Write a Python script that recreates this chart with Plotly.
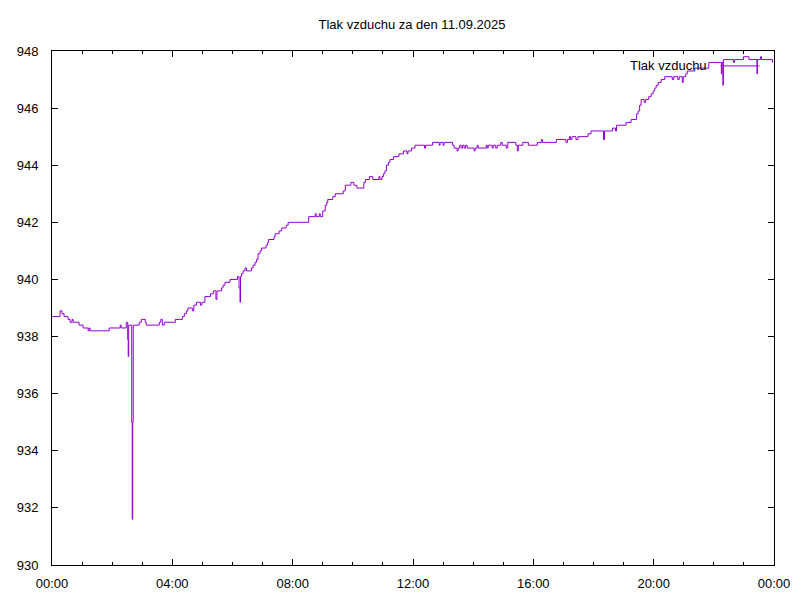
import plotly.graph_objects as go

# tlak vzduchu 11.09.2025 (cas, hPa)
times = [
    "00:00", "00:16", "00:20", "00:24", "00:32", "00:36", "00:40", "00:42", "00:54", "01:02",
    "01:12", "01:14", "01:16", "01:54", "02:16", "02:18", "02:28", "02:31", "02:32", "02:33",
    "02:39", "02:40", "02:41", "02:42", "02:54", "02:58", "03:06", "03:08", "03:34", "03:37",
    "03:40", "03:44", "04:06", "04:20", "04:24", "04:28", "04:31", "04:40", "04:43", "04:48",
    "04:56", "04:59", "05:05", "05:16", "05:22", "05:27", "05:29", "05:38", "05:41", "05:45",
    "05:55", "06:10", "06:13", "06:15", "06:16", "06:18", "06:21", "06:25", "06:28", "06:38",
    "06:41", "06:45", "06:48", "06:51", "06:55", "06:58", "07:07", "07:10", "07:12", "07:23",
    "07:25", "07:33", "07:38", "07:47", "07:51", "08:32", "08:45", "08:47", "08:53", "08:55",
    "09:00", "09:05", "09:08", "09:10", "09:20", "09:25", "09:41", "09:45", "09:56", "10:02",
    "10:08", "10:22", "10:25", "10:33", "10:40", "10:52", "10:54", "10:58", "11:01", "11:04",
    "11:07", "11:11", "11:14", "11:21", "11:32", "11:41", "11:48", "11:50", "11:57", "12:04",
    "12:23", "12:25", "12:39", "12:52", "12:54", "13:00", "13:02", "13:19", "13:22", "13:28",
    "13:30", "13:33", "13:36", "13:39", "13:42", "13:45", "13:48", "14:02", "14:04", "14:08",
    "14:10", "14:26", "14:28", "14:30", "14:38", "14:40", "14:45", "14:48", "14:55", "14:58",
    "15:06", "15:09", "15:25", "15:28", "15:30", "15:39", "15:50", "16:08", "16:16", "16:18",
    "16:46", "17:05", "17:08", "17:12", "17:14", "17:17", "17:25", "17:29", "17:49", "17:55",
    "18:20", "18:22", "18:38", "18:44", "18:46", "19:05", "19:15", "19:26", "19:29", "19:32",
    "19:35", "19:41", "19:44", "19:50", "19:55", "19:59", "20:02", "20:05", "20:09", "20:15",
    "20:22", "20:37", "20:40", "20:48", "20:51", "20:57", "20:59", "21:04", "21:07", "21:22",
    "21:50", "22:15", "22:16", "22:18", "22:19", "22:39", "22:41", "22:59", "23:10", "23:26",
    "23:27", "23:33", "23:35", "23:57",
]
pressure = [
    938.7, 938.9, 938.8, 938.7, 938.6, 938.5, 938.6, 938.5, 938.4, 938.3,
    938.2, 938.3, 938.2, 938.3, 938.4, 938.3, 938.5, 937.9, 937.3, 938.4,
    935.0, 931.6, 935.0, 938.4, 938.5, 938.6, 938.5, 938.4, 938.5, 938.6,
    938.4, 938.5, 938.6, 938.7, 938.8, 938.9, 939.0, 938.9, 939.1, 939.2,
    939.1, 939.2, 939.4, 939.5, 939.6, 939.3, 939.6, 939.7, 939.8, 939.9,
    940.0, 940.1, 939.7, 939.2, 940.1, 940.2, 940.3, 940.4, 940.3, 940.4,
    940.5, 940.6, 940.7, 940.9, 941.0, 941.1, 941.2, 941.3, 941.4, 941.5,
    941.6, 941.7, 941.8, 941.9, 942.0, 942.2, 942.3, 942.2, 942.3, 942.2,
    942.4, 942.6, 942.7, 942.8, 942.9, 943.0, 943.1, 943.3, 943.4, 943.3,
    943.2, 943.4, 943.5, 943.6, 943.5, 943.6, 943.5, 943.6, 943.7, 943.8,
    944.0, 944.1, 944.2, 944.3, 944.4, 944.5, 944.4, 944.5, 944.6, 944.7,
    944.6, 944.7, 944.8, 944.7, 944.8, 944.7, 944.8, 944.7, 944.6, 944.5,
    944.6, 944.7, 944.6, 944.7, 944.6, 944.7, 944.6, 944.5, 944.6, 944.7,
    944.6, 944.7, 944.6, 944.7, 944.6, 944.7, 944.6, 944.7, 944.8, 944.7,
    944.6, 944.8, 944.7, 944.5, 944.7, 944.8, 944.7, 944.8, 944.9, 944.8,
    944.9, 944.8, 944.9, 945.0, 944.9, 945.0, 944.9, 945.0, 945.1, 945.2,
    944.9, 945.2, 945.3, 945.2, 945.4, 945.5, 945.6, 945.8, 945.9, 946.1,
    946.3, 946.2, 946.3, 946.4, 946.5, 946.6, 946.7, 946.8, 946.9, 947.0,
    947.1, 947.0, 947.1, 947.0, 947.1, 946.9, 947.1, 947.2, 947.3, 947.4,
    947.6, 947.2, 947.6, 946.8, 947.7, 947.6, 947.7, 947.8, 947.7, 947.2,
    947.7, 947.8, 947.7, 947.6,
]
day = "2025-09-11"
series_name = "Tlak vzduchu"

FONT = "Liberation Sans, Arial, sans-serif"

fig = go.Figure()
fig.add_trace(go.Scatter(
    x=[day + " " + t for t in times],
    y=pressure,
    mode="lines",
    line=dict(color="#9400d3", width=1, shape="hv"),
    name=series_name,
    showlegend=False,
))

axis_common = dict(
    showline=True, linecolor="black", linewidth=1, mirror="ticks",
    ticks="inside", ticklen=6, tickcolor="black", tickwidth=1,
    showgrid=False, zeroline=False, automargin=False,
    tickfont=dict(family=FONT, size=13, color="black"),
)

fig.update_xaxes(
    range=[day + " 00:00", "2025-09-12 00:00"],
    dtick=4 * 3600000, tick0=day + " 00:00", tickformat="%H:%M",
    ticklabelstandoff=6,
    minor=dict(dtick=3600000, ticks="inside", ticklen=3, tickcolor="black", showgrid=False),
    **axis_common,
)
fig.update_yaxes(range=[930, 948], dtick=2, ticklabelstandoff=10, **axis_common)

# legenda ve stylu gnuplotu: text vpravo zarovnany, vzorek cary za nim
fig.add_annotation(
    x=0.91, y=0.971, xref="paper", yref="paper", text=series_name,
    showarrow=False, xanchor="right", yanchor="middle",
    font=dict(family=FONT, size=13, color="black"),
)
fig.add_shape(type="line", xref="paper", yref="paper",
              x0=0.926, x1=0.98, y0=0.971, y1=0.971,
              line=dict(color="#9400d3", width=1))

# stranka ma okraj 8 px, proto jsou okraje o 8 px mensi vlevo a nahore
fig.update_layout(
    width=800, height=600,
    title=dict(text="Tlak vzduchu za den 11.09.2025", x=0.505, xanchor="center",
               y=0.972, yanchor="middle", font=dict(family=FONT, size=13, color="black")),
    margin=dict(l=44, r=34, t=43, b=43),
    plot_bgcolor="white", paper_bgcolor="white",
)

fig.write_html("out.html")
